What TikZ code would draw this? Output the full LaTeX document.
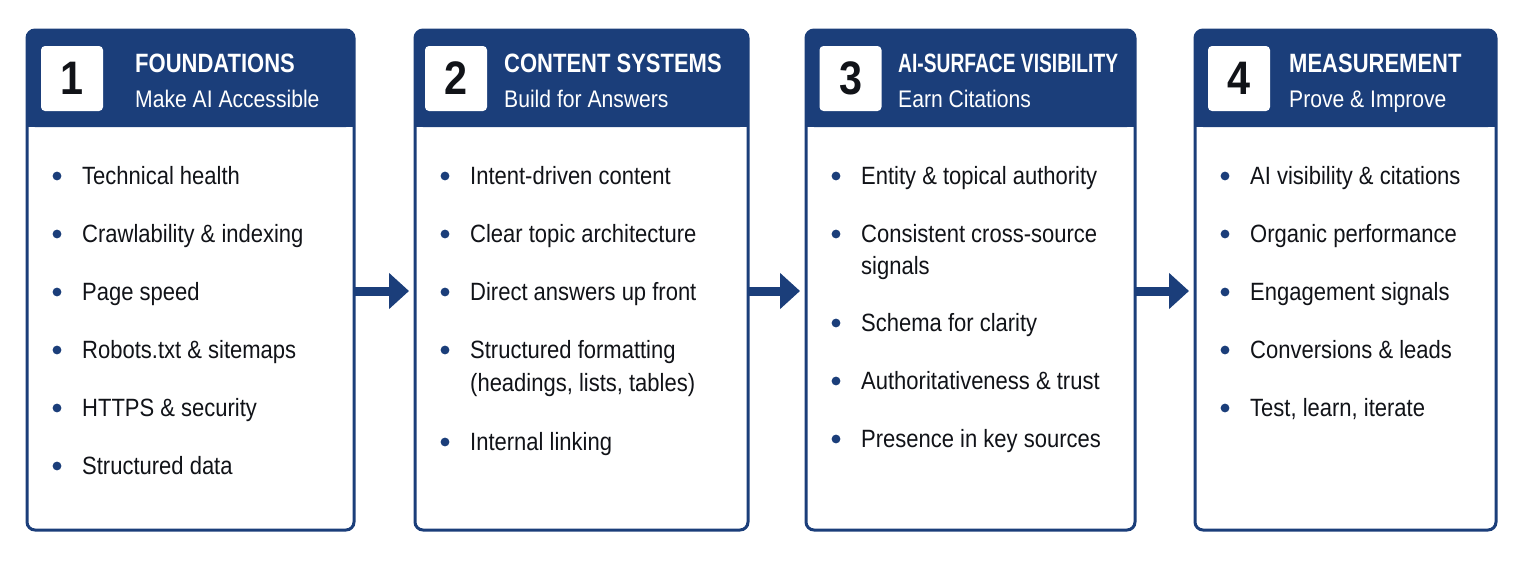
\documentclass[tikz,border=0pt]{standalone}
\usepackage{fontspec}
\setmainfont{Liberation Sans}[FakeStretch=0.88]
\newfontfamily\headfont{Liberation Sans}[FakeStretch=0.83]
\newfontfamily\narrowfont{Liberation Sans}[FakeStretch=0.725]
\usetikzlibrary{arrows.meta}
\definecolor{navy}{HTML}{1B3E7A}
\definecolor{ink}{HTML}{111318}
\tikzset{
  panel/.style = {draw=navy, line width=3pt, rounded corners=8pt, fill=white,
                  anchor=north west, minimum height=500pt,
                  inner sep=0pt, outer sep=0pt},
  numbox/.style = {fill=white, rounded corners=4pt, minimum width=62pt,
                   minimum height=65pt, inner sep=0pt, text=ink,
                   font=\fontsize{47}{50}\selectfont\bfseries},
  title/.style = {anchor=base west, inner sep=0pt, text=white,
                  font=\headfont\fontsize{26.5}{30}\selectfont\bfseries},
  subtitle/.style = {anchor=base west, inner sep=0pt, text=white,
                     font=\fontsize{24}{28}\selectfont},
  item/.style = {anchor=base west, inner sep=0pt, text=ink,
                 font=\fontsize{25}{30}\selectfont}, % y = baseline
  flow/.style = {draw=navy, line width=9pt,
                 -{Triangle[length=20pt, width=35pt]}, shorten >=6pt}
}
% bullet + text: left edge of panel, y (middle of line), name, text
\newcommand{\bul}[4]{%
  \fill[navy] ({#1+30},#2) circle (4.4pt);
  \node[item] (#3) at ({#1+55},{#2+8}) {#4};}

\begin{document}
\begin{tikzpicture}[x=1pt, y=-1pt]
	\def \hb{127}  % header bottom
	\def \xa{27}
	\def \xb{415}
	\def \xc{806}
	\def \xd{1195}
	
	\useasboundingbox (0,0) rectangle (1523,562);
	
	% Panels
	\node[panel, minimum width=327pt] (p1) at (\xa,30) {};
	\node[panel, minimum width=333pt] (p2) at (\xb,30) {};
	\node[panel, minimum width=329pt] (p3) at (\xc,30) {};
	\node[panel, minimum width=301pt] (p4) at (\xd,30) {};
	
	% Headers
	\fill[navy, rounded corners=8pt] (\xa,30) rectangle (354,\hb);
	\fill[navy] (\xa,100) rectangle (354,\hb);
	\fill[navy, rounded corners=8pt] (\xb,30) rectangle (748,\hb);
	\fill[navy] (\xb,100) rectangle (748,\hb);
	\fill[navy, rounded corners=8pt] (\xc,30) rectangle (1135,\hb);
	\fill[navy] (\xc,100) rectangle (1135,\hb);
	\fill[navy, rounded corners=8pt] (\xd,30) rectangle (1496,\hb);
	\fill[navy] (\xd,100) rectangle (1496,\hb);
	
	% Numbers
	\node[numbox] (n1) at (72,78.5) {1};
	\node[numbox] (n2) at (456,78.5) {2};
	\node[numbox] (n3) at (850.5,78.5) {3};
	\node[numbox] (n4) at (1239,78.5) {4};
	
	% Titles
	\node[title] (h1) at (135,72) {FOUNDATIONS};
	\node[subtitle] (s1) at (135,107) {Make AI Accessible};
	\node[title] (h2) at (504,72) {CONTENT SYSTEMS};
	\node[subtitle] (s2) at (504,107) {Build for Answers};
	\node[title, font=\narrowfont\fontsize{26.5}{30}\selectfont\bfseries] (h3) at (898,72) {AI-SURFACE VISIBILITY};
	\node[subtitle] (s3) at (898,107) {Earn Citations};
	\node[title] (h4) at (1289,72) {MEASUREMENT};
	\node[subtitle] (s4) at (1289,107) {Prove \& Improve};
	
	% Foundations
	\bul{\xa}{176}{a1}{Technical health}
	\bul{\xa}{234}{a2}{Crawlability \& indexing}
	\bul{\xa}{292}{a3}{Page speed}
	\bul{\xa}{350}{a4}{Robots.txt \& sitemaps}
	\bul{\xa}{408}{a5}{HTTPS \& security}
	\bul{\xa}{466}{a6}{Structured data}
	
	% Content systems
	\bul{\xb}{176}{b1}{Intent-driven content}
	\bul{\xb}{234}{b2}{Clear topic architecture}
	\bul{\xb}{292}{b3}{Direct answers up front}
	\bul{\xb}{350}{b4}{Structured formatting}
	\node[item] (b4x) at (\xb+55,391) {(headings, lists, tables)};
	\bul{\xb}{442}{b5}{Internal linking}
	
	% AI-surface visibility
	\bul{\xc}{176}{c1}{Entity \& topical authority}
	\bul{\xc}{234}{c2}{Consistent cross-source}
	\node[item] (c2x) at (\xc+55,274) {signals};
	\bul{\xc}{323}{c3}{Schema for clarity}
	\bul{\xc}{381}{c4}{Authoritativeness \& trust}
	\bul{\xc}{439}{c5}{Presence in key sources}
	
	% Measurement
	\bul{\xd}{176}{d1}{AI visibility \& citations}
	\bul{\xd}{234}{d2}{Organic performance}
	\bul{\xd}{292}{d3}{Engagement signals}
	\bul{\xd}{350}{d4}{Conversions \& leads}
	\bul{\xd}{408}{d5}{Test, learn, iterate}
	
	% Arrows
	\draw[flow] ([yshift=-11pt]p1.east) -- ([yshift=-11pt]p2.west);
	\draw[flow] ([yshift=-11pt]p2.east) -- ([yshift=-11pt]p3.west);
	\draw[flow] ([yshift=-11pt]p3.east) -- ([yshift=-11pt]p4.west);
	
\end{tikzpicture}
\end{document}
